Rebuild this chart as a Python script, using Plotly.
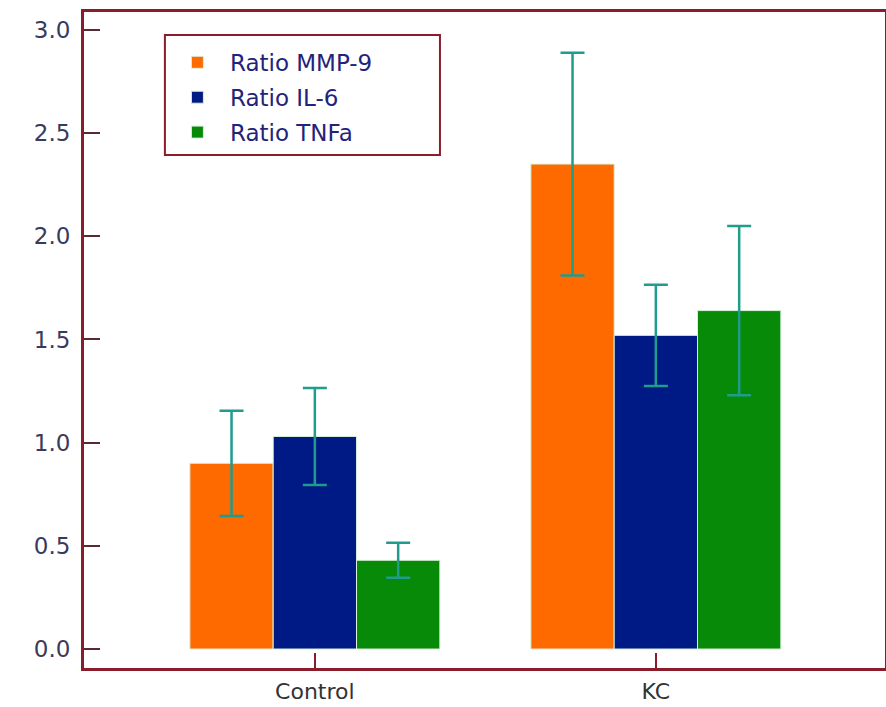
import plotly.graph_objects as go

categories = ["Control", "KC"]
series_names = ["Ratio MMP-9", "Ratio IL-6", "Ratio TNFa"]
mmp9 = [0.90, 2.35]
mmp9_err = [0.255, 0.54]
il6 = [1.03, 1.52]
il6_err = [0.235, 0.245]
tnfa = [0.43, 1.64]
tnfa_err = [0.085, 0.41]

colors = ["#ff6a00", "#001a85", "#078a07"]
err_color = "#1f9c8c"
maroon = "#8b1c2c"

fig = go.Figure()
for i, (name, vals, errs) in enumerate(zip(series_names, [mmp9, il6, tnfa], [mmp9_err, il6_err, tnfa_err])):
    fig.add_trace(go.Bar(
        x=categories, y=vals, name=name,
        marker=dict(color=colors[i], line=dict(color="#d8f0d8", width=1)),
        error_y=dict(type="data", array=errs, visible=True, color=err_color, thickness=2.5, width=12),
        legendgroup="g%d" % i,
    ))

# legend frame
fig.add_shape(type="rect", xref="paper", yref="paper",
              x0=0.101, x1=0.4444, y0=0.782, y1=0.965,
              line=dict(color=maroon, width=2), fillcolor="rgba(0,0,0,0)", layer="above")

fig.update_layout(
    width=886, height=707,
    margin=dict(l=84, r=1, t=12, b=39, autoexpand=False),
    paper_bgcolor="white", plot_bgcolor="white",
    barmode="group", bargap=0.267, bargroupgap=0.0,
    font=dict(family="DejaVu Sans, Liberation Sans, sans-serif", color="#333344"),
    showlegend=True,
    legend=dict(
        x=0.101, y=0.956, xanchor="left", yanchor="top",
        borderwidth=0, bgcolor="rgba(0,0,0,0)",
        font=dict(size=23, color="#23237a"),
        tracegroupgap=2,
        itemwidth=55,
    ),
    xaxis=dict(
        range=[-0.677, 1.672], automargin=False,
        showline=True, linecolor=maroon, linewidth=3, mirror=True,
        ticks="inside", ticklen=15, tickwidth=2, tickcolor=maroon,
        tickfont=dict(size=22, color="#333333"),
        ticklabelstandoff=2,
        showgrid=False, zeroline=False,
    ),
    yaxis=dict(
        range=[-0.092, 3.087], automargin=False,
        tickmode="array", tickvals=[0, 0.5, 1.0, 1.5, 2.0, 2.5, 3.0],
        ticktext=["0.0", "0.5", "1.0", "1.5", "2.0", "2.5", "3.0"],
        showline=True, linecolor=maroon, linewidth=3, mirror=True,
        ticks="inside", ticklen=16, tickwidth=2, tickcolor="#5a2a30",
        tickfont=dict(size=23, color="#3a3a5a"),
        ticklabelstandoff=6,
        showgrid=False, zeroline=False,
    ),
)

fig.write_html("out.html")
